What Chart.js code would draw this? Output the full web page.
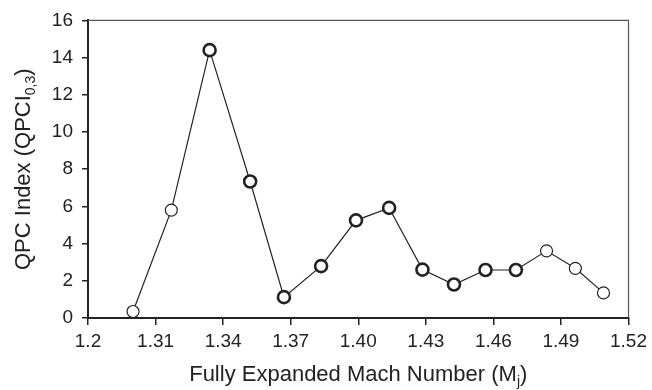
<!DOCTYPE html>
<html>
<head>
<meta charset="utf-8">
<script src="https://cdn.jsdelivr.net/npm/chart.js@4.4.1/dist/chart.umd.min.js"></script>
<style>
  html, body { margin: 0; padding: 0; background: #fff; }
  canvas { display: block; }
</style>
</head>
<body>
<canvas id="qpcChart" width="652" height="390"></canvas>
<script>
// 데이터
const machNumbers = [1.300, 1.317, 1.334, 1.352, 1.367, 1.3835, 1.399, 1.4137, 1.4285, 1.4425, 1.4565, 1.470, 1.4836, 1.4964, 1.5089];
const qpcIndex = [0.35, 5.8, 14.4, 7.34, 1.12, 2.79, 5.25, 5.92, 2.6, 1.8, 2.58, 2.58, 3.61, 2.67, 1.35];
// 굵은 테두리 마커 여부
const boldMarker = [false, false, true, true, true, true, true, true, true, true, true, true, false, false, false];

const xTickValues = [1.28, 1.31, 1.34, 1.37, 1.40, 1.43, 1.46, 1.49, 1.52];
const xTickLabels = ["1.2", "1.31", "1.34", "1.37", "1.40", "1.43", "1.46", "1.49", "1.52"];

const FONT = "'Liberation Sans', Arial, sans-serif";
const INK = "#222";

// 아래첨자 포함 텍스트 그리기
function drawRichText(ctx, parts, cx, cy) {
    let total = 0;
    parts.forEach(p => {
        ctx.font = (p.sub ? "14px " : "22px ") + FONT;
        p.w = ctx.measureText(p.text).width;
        total += p.w;
    });
    let x = cx - total / 2;
    parts.forEach(p => {
        ctx.font = (p.sub ? "14px " : "22px ") + FONT;
        ctx.fillText(p.text, x, cy + (p.sub ? 5 : 0));
        x += p.w;
    });
}

const framePlugin = {
    id: "frameAndTitles",
    afterDraw(chart) {
        const { ctx, chartArea } = chart;
        ctx.save();
        // 위, 오른쪽 테두리
        ctx.strokeStyle = "#555";
        ctx.lineWidth = 1.2;
        ctx.beginPath();
        ctx.moveTo(chartArea.left, chartArea.top);
        ctx.lineTo(chartArea.right, chartArea.top);
        ctx.lineTo(chartArea.right, chartArea.bottom);
        ctx.stroke();

        ctx.fillStyle = INK;
        ctx.textAlign = "left";
        ctx.textBaseline = "alphabetic";
        // x축 제목
        drawRichText(ctx, [
            { text: "Fully Expanded Mach Number (M" },
            { text: "j", sub: true },
            { text: ")" }
        ], (chartArea.left + chartArea.right) / 2, 381);

        // y축 제목
        ctx.translate(30, (chartArea.top + chartArea.bottom) / 2);
        ctx.rotate(-Math.PI / 2);
        drawRichText(ctx, [
            { text: "QPC Index (QPCI" },
            { text: "0,3", sub: true },
            { text: ")" }
        ], 0, 0);
        ctx.restore();
    }
};

const ctx = document.getElementById("qpcChart").getContext("2d");
new Chart(ctx, {
    type: "scatter",
    data: {
        datasets: [{
            data: machNumbers.map((m, i) => ({ x: m, y: qpcIndex[i] })),
            showLine: true,
            borderColor: INK,
            borderWidth: 1.2,
            pointRadius: 6,
            pointHoverRadius: 6,
            pointBackgroundColor: "#fff",
            pointBorderColor: INK,
            pointBorderWidth: boldMarker.map(b => b ? 2.6 : 1.2),
        }]
    },
    options: {
        responsive: false,
        animation: false,
        events: [],
        layout: { padding: { top: 18, right: 22, left: 0, bottom: 0 } },
        plugins: { legend: { display: false }, tooltip: { enabled: false } },
        scales: {
            x: {
                type: "linear",
                min: 1.28,
                max: 1.52,
                afterBuildTicks: (scale) => {
                    scale.ticks = xTickValues.map(v => ({ value: v }));
                },
                afterFit: (scale) => { scale.height = 72; },
                grid: { drawOnChartArea: false, drawTicks: true, tickLength: 7, color: INK, lineWidth: 1.5 },
                border: { display: true, color: INK, width: 2 },
                ticks: {
                    autoSkip: false,
                    maxRotation: 0,
                    padding: 5,
                    color: INK,
                    font: { family: FONT, size: 19 },
                    callback: (value, index) => xTickLabels[index]
                }
            },
            y: {
                min: 0,
                max: 16,
                afterFit: (scale) => { scale.width = 88; },
                grid: { drawOnChartArea: false, drawTicks: true, tickLength: 6, color: INK, lineWidth: 1.5 },
                border: { display: true, color: INK, width: 2 },
                ticks: {
                    stepSize: 2,
                    padding: 9,
                    color: INK,
                    font: { family: FONT, size: 19 }
                }
            }
        }
    },
    plugins: [framePlugin]
});
</script>
</body>
</html>
